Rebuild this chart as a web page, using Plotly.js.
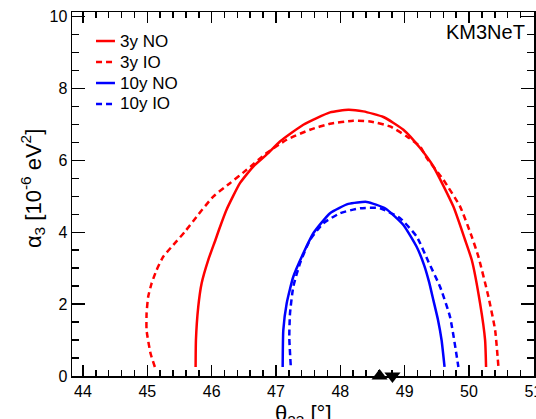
<!DOCTYPE html>
<html>
<head>
<meta charset="utf-8">
<script src="https://cdn.plot.ly/plotly-3.0.1.min.js"></script>
<style>html,body{margin:0;padding:0;background:#fff;}#chart{width:536px;height:419px;}</style>
</head>
<body>
<div id="chart"></div>
<script>
// 3 years, normal ordering
const theta3yNO = [45.751, 45.756, 45.792, 45.844, 45.947, 46.059, 46.113, 46.230, 46.440, 46.647, 46.880, 47.062, 47.425, 47.840, 48.124, 48.358, 48.669, 48.980, 49.240, 49.446, 49.757, 49.939, 50.043, 50.172, 50.250, 50.265];
const alpha3yNO = [0.25, 0.996, 1.925, 2.577, 3.227, 3.785, 4.064, 4.621, 5.366, 5.829, 6.203, 6.527, 6.993, 7.336, 7.411, 7.364, 7.208, 6.853, 6.343, 5.830, 4.714, 3.785, 3.227, 2.020, 0.996, 0.25];
// 3 years, inverted ordering
const theta3yIO = [45.118, 45.051, 44.989, 44.989, 45.014, 45.067, 45.145, 45.247, 45.403, 45.585, 45.767, 46.025, 46.285, 46.544, 46.855, 47.166, 47.529, 47.840, 48.202, 48.462, 48.773, 49.033, 49.240, 49.344, 49.602, 49.862, 50.043, 50.146, 50.302, 50.406, 50.457];
const alpha3yIO = [0.251, 0.625, 1.275, 1.741, 2.204, 2.577, 2.949, 3.320, 3.646, 4.017, 4.435, 4.993, 5.367, 5.738, 6.204, 6.575, 6.854, 7.021, 7.105, 7.085, 6.946, 6.667, 6.388, 6.064, 5.459, 4.714, 3.877, 3.320, 2.204, 1.275, 0.251];
// 10 years, normal ordering
const theta10yNO = [47.104, 47.114, 47.166, 47.269, 47.425, 47.580, 47.840, 48.124, 48.411, 48.695, 48.980, 49.188, 49.302, 49.380, 49.446, 49.519, 49.574, 49.620];
const alpha10yNO = [0.251, 1.275, 2.020, 2.762, 3.414, 3.972, 4.530, 4.789, 4.845, 4.669, 4.204, 3.590, 3.088, 2.613, 2.112, 1.554, 0.996, 0.251];
// 10 years, inverted ordering
const theta10yIO = [47.229, 47.207, 47.218, 47.269, 47.373, 47.529, 47.736, 47.996, 48.307, 48.618, 48.929, 49.188, 49.369, 49.550, 49.705, 49.835];
const alpha10yIO = [0.298, 1.088, 1.741, 2.483, 3.135, 3.785, 4.251, 4.530, 4.669, 4.669, 4.391, 3.877, 3.180, 2.483, 1.646, 0.251];
// best-fit markers
const bestThetaNO = [48.61];
const bestThetaIO = [48.81];
const bestAlpha = [0];
// legend labels
const seriesNames = ['3y NO', '3y IO', '10y NO', '10y IO'];

const FONT = '"Liberation Sans", Arial, Helvetica, sans-serif';
const RED = '#ff0000', BLUE = '#0000ff';
const LW = 2.5, DASH = '6px,4px';
const styles = [
  {color: RED, width: LW, dash: 'solid'},
  {color: RED, width: LW, dash: DASH},
  {color: BLUE, width: LW, dash: 'solid'},
  {color: BLUE, width: LW, dash: DASH}
];
const xs = [theta3yNO, theta3yIO, theta10yNO, theta10yIO];
const ys = [alpha3yNO, alpha3yIO, alpha10yNO, alpha10yIO];

const traces = seriesNames.map((n, i) => ({
  x: xs[i], y: ys[i], name: n, mode: 'lines', showlegend: false,
  line: Object.assign({shape: 'spline', smoothing: 0.5}, styles[i])
}));
traces.push(
  {x: bestThetaNO, y: bestAlpha, name: 'NO best fit', mode: 'markers', showlegend: false, cliponaxis: false,
   marker: {symbol: 'triangle-up', size: 14, color: '#000'}},
  {x: bestThetaIO, y: bestAlpha, name: 'IO best fit', mode: 'markers', showlegend: false, cliponaxis: false,
   marker: {symbol: 'triangle-down', size: 14, color: '#000'}}
);

const axisCommon = {
  showgrid: false, zeroline: false, showline: true, linecolor: '#000', linewidth: 1.5,
  mirror: 'allticks', ticks: 'inside', tickcolor: '#000', tickwidth: 1.5,
  tickfont: {family: FONT, size: 16, color: '#000'}, ticklabeloverflow: 'allow'
};

// manual legend (ROOT-style short samples, tight rows)
const legX0 = 0.052, legX1 = 0.093, legTextX = 0.0996;
const legY = [0.9203, 0.8626, 0.8049, 0.7473];
const shapes = seriesNames.map((n, i) => ({
  type: 'line', xref: 'paper', yref: 'paper', x0: legX0, x1: legX1, y0: legY[i], y1: legY[i],
  line: styles[i]
}));
const annotations = seriesNames.map((n, i) => ({
  text: n, xref: 'paper', yref: 'paper', x: legTextX, y: legY[i], xanchor: 'left', yanchor: 'middle',
  showarrow: false, font: {family: FONT, size: 17, color: '#000'}
}));
annotations.push(
  {text: 'KM3NeT', xref: 'paper', yref: 'paper', x: 0.985, y: 0.945, xanchor: 'right', yanchor: 'middle',
   showarrow: false, font: {family: FONT, size: 20, color: '#000'}},
  {text: 'θ<sub>23</sub> [°]', xref: 'paper', yref: 'paper', x: 0.5, y: -0.062, xanchor: 'center', yanchor: 'top',
   showarrow: false, font: {family: FONT, size: 22, color: '#000'}},
  {text: 'α<sub>3</sub> [10<sup>-6</sup> eV<sup>2</sup>]', xref: 'paper', yref: 'paper', x: -0.084, y: 0.514,
   xanchor: 'center', yanchor: 'middle', textangle: -90,
   showarrow: false, font: {family: FONT, size: 22, color: '#000'}}
);

const layout = {
  width: 536, height: 419,
  margin: {l: 72, r: 2, t: 12, b: 43},
  paper_bgcolor: '#fff', plot_bgcolor: '#fff',
  font: {family: FONT, color: '#000'},
  xaxis: Object.assign({}, axisCommon, {
    range: [43.83, 51.01], tick0: 44, dtick: 1, ticklen: 11,
    minor: {dtick: 0.2, tick0: 44, ticklen: 6, ticks: 'inside', tickcolor: '#000', tickwidth: 1.5}
  }),
  yaxis: Object.assign({}, axisCommon, {
    range: [0, 10.13], tick0: 0, dtick: 2, ticklen: 13,
    minor: {dtick: 0.5, tick0: 0, ticklen: 7, ticks: 'inside', tickcolor: '#000', tickwidth: 1.5}
  }),
  showlegend: false,
  shapes: shapes,
  annotations: annotations
};

Plotly.newPlot('chart', traces, layout, {displayModeBar: false, staticPlot: true});
</script>
</body>
</html>
